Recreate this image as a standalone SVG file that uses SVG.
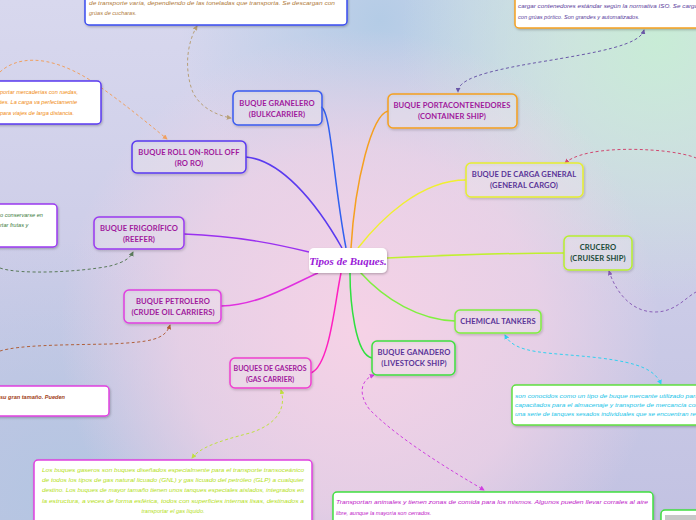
<svg xmlns="http://www.w3.org/2000/svg" width="696" height="520" viewBox="0 0 696 520">
<defs>
<linearGradient id="bg" x1="0" y1="0" x2="0" y2="1">
<stop offset="0" stop-color="#d8d8ee"/>
<stop offset="1" stop-color="#c2c2e2"/>
</linearGradient>
<radialGradient id="pink" cx="360" cy="330" r="300" gradientUnits="userSpaceOnUse">
<stop offset="0" stop-color="#f6d2e6" stop-opacity="1"/>
<stop offset="0.6" stop-color="#f2d2e6" stop-opacity="0.7"/>
<stop offset="1" stop-color="#f2d2e6" stop-opacity="0"/>
</radialGradient>
<radialGradient id="green" cx="660" cy="40" r="260" gradientUnits="userSpaceOnUse">
<stop offset="0" stop-color="#c8ecd6"/>
<stop offset="1" stop-color="#c8ecd6" stop-opacity="0"/>
</radialGradient>
<radialGradient id="blue" cx="380" cy="20" r="200" gradientUnits="userSpaceOnUse">
<stop offset="0" stop-color="#b4cce6"/>
<stop offset="1" stop-color="#b4cce6" stop-opacity="0"/>
</radialGradient>
<radialGradient id="blue2" cx="60" cy="500" r="260" gradientUnits="userSpaceOnUse">
<stop offset="0" stop-color="#b4c6e2"/>
<stop offset="1" stop-color="#b4c6e2" stop-opacity="0"/>
</radialGradient>
<filter id="sh" x="-10%" y="-10%" width="130%" height="140%">
<feDropShadow dx="0.8" dy="1.2" stdDeviation="0.8" flood-color="#000" flood-opacity="0.25"/>
</filter>
<marker id="aTan" viewBox="0 0 6 6" refX="5" refY="3" markerWidth="5" markerHeight="5" orient="auto-start-reverse"><path d="M0,0 L6,3 L0,6 z" fill="#b8a078"/></marker>
<marker id="aPur" viewBox="0 0 6 6" refX="5" refY="3" markerWidth="5" markerHeight="5" orient="auto-start-reverse"><path d="M0,0 L6,3 L0,6 z" fill="#6a58a8"/></marker>
<marker id="aOr" viewBox="0 0 6 6" refX="5" refY="3" markerWidth="5" markerHeight="5" orient="auto-start-reverse"><path d="M0,0 L6,3 L0,6 z" fill="#f0a060"/></marker>
<marker id="aGr" viewBox="0 0 6 6" refX="5" refY="3" markerWidth="5" markerHeight="5" orient="auto-start-reverse"><path d="M0,0 L6,3 L0,6 z" fill="#5a7a5a"/></marker>
<marker id="aBr" viewBox="0 0 6 6" refX="5" refY="3" markerWidth="5" markerHeight="5" orient="auto-start-reverse"><path d="M0,0 L6,3 L0,6 z" fill="#b0603a"/></marker>
<marker id="aYg" viewBox="0 0 6 6" refX="5" refY="3" markerWidth="5" markerHeight="5" orient="auto-start-reverse"><path d="M0,0 L6,3 L0,6 z" fill="#c0e040"/></marker>
<marker id="aCy" viewBox="0 0 6 6" refX="5" refY="3" markerWidth="5" markerHeight="5" orient="auto-start-reverse"><path d="M0,0 L6,3 L0,6 z" fill="#30d0f0"/></marker>
<marker id="aMg" viewBox="0 0 6 6" refX="5" refY="3" markerWidth="5" markerHeight="5" orient="auto-start-reverse"><path d="M0,0 L6,3 L0,6 z" fill="#d040e0"/></marker>
<marker id="aVi" viewBox="0 0 6 6" refX="5" refY="3" markerWidth="5" markerHeight="5" orient="auto-start-reverse"><path d="M0,0 L6,3 L0,6 z" fill="#8a60b8"/></marker>
<marker id="aRd" viewBox="0 0 6 6" refX="5" refY="3" markerWidth="5" markerHeight="5" orient="auto-start-reverse"><path d="M0,0 L6,3 L0,6 z" fill="#d04870"/></marker>
</defs>
<style>
.node{fill:#ffffff;fill-opacity:0.25;stroke-width:1.5;filter:url(#sh)}
.note{fill:#ffffff;stroke-width:1.5;filter:url(#sh)}
.lbl{font-family:Lato,"Open Sans","Liberation Sans",sans-serif;font-weight:bold;font-size:7.6px;letter-spacing:0.1px;text-anchor:middle;fill:#a0189c}
.lbl2{fill:#5a3498}
.lbl3{fill:#1a4a38}
.ntx{font-family:"Liberation Sans","DejaVu Sans",sans-serif;font-style:italic;font-size:5.6px}
.main{fill:none;stroke-width:1.5}
.dash{fill:none;stroke-width:1;stroke-dasharray:3 2.5}
</style>
<rect width="696" height="520" fill="url(#bg)"/>
<rect width="696" height="520" fill="url(#blue)"/>
<rect width="696" height="520" fill="url(#blue2)"/>
<rect width="696" height="520" fill="url(#green)"/>
<rect width="696" height="520" fill="url(#pink)"/>

<g id="connectors">
<path class="main" stroke="#3060f0" d="M321,107 C331,110 333,180 346,248"/>
<path class="main" stroke="#5a3af0" d="M246,157 C280,160 315,200 342,248"/>
<path class="main" stroke="#f5a020" d="M388,111 C372,115 355,180 351,248"/>
<path class="main" stroke="#f0f030" d="M466,180 C420,180 380,220 358,248"/>
<path class="main" stroke="#c0f030" d="M387,258 C450,255 520,253 564,253"/>
<path class="main" stroke="#9a30f0" d="M184,234 C240,236 280,245 309,252"/>
<path class="main" stroke="#e030e0" d="M221,306 C260,305 290,285 318,273"/>
<path class="main" stroke="#ff20c0" d="M311,373 C330,365 335,300 341,273"/>
<path class="main" stroke="#80f040" d="M455,321 C420,320 385,300 360,272"/>
<path class="main" stroke="#30e040" d="M372,358 C355,355 350,300 350,273"/>

<path class="dash" stroke="#b8a078" marker-start="url(#aTan)" marker-end="url(#aTan)" d="M197,26 C186,45 185,70 192,90 C198,106 215,115 231,118"/>
<path class="dash" stroke="#6a58a8" marker-start="url(#aPur)" marker-end="url(#aPur)" d="M644,30 C640,45 600,52 540,62 C480,72 458,80 458,92"/>
<path class="dash" stroke="#f0a060" marker-end="url(#aOr)" d="M0,72 C15,58 45,52 90,80 C120,100 150,125 167,139"/>
<path class="dash" stroke="#5a7a5a" marker-end="url(#aGr)" d="M0,268 C20,275 80,272 110,266 C125,262 130,258 133,252"/>
<path class="dash" stroke="#b0603a" marker-end="url(#aBr)" d="M0,351 C20,345 60,345 110,344 C150,342 165,340 170,325"/>
<path class="dash" stroke="#c0e040" marker-start="url(#aYg)" marker-end="url(#aYg)" d="M281,390 C287,410 275,425 250,433 C215,442 200,448 192,458"/>
<path class="dash" stroke="#30d0f0" marker-start="url(#aCy)" marker-end="url(#aCy)" d="M505,335 C515,355 550,352 600,358 C640,363 655,370 661,384"/>
<path class="dash" stroke="#d040e0" marker-start="url(#aMg)" marker-end="url(#aMg)" d="M374,375 C360,380 358,395 370,410 C400,440 450,470 484,490"/>
<path class="dash" stroke="#8a60b8" marker-start="url(#aVi)" d="M609,271 C615,290 630,312 655,312 C675,312 685,298 696,292"/>
<path class="dash" stroke="#d04870" marker-start="url(#aRd)" d="M565,163 C580,150 620,148 650,150 C670,151 690,155 696,158"/>
</g>

<g id="center">
<rect x="309" y="248" width="78" height="25" rx="5" fill="#ffffff" filter="url(#sh)"/>
<text x="348" y="265" text-anchor="middle" font-family="'Liberation Serif','DejaVu Serif',serif" font-style="italic" font-weight="bold" font-size="11" fill="#9a20d8">Tipos de Buques.</text>
</g>

<g id="granelero">
<rect class="node" x="233" y="91" width="89" height="34" rx="5" stroke="#3a5cf0"/>
<text class="lbl" x="277" y="106">BUQUE GRANELERO</text>
<text class="lbl" x="277" y="117">(BULKCARRIER)</text>
</g>
<g id="portacontenedores">
<rect class="node" x="388" y="94" width="129" height="34" rx="5" stroke="#f5a020"/>
<text class="lbl" x="452" y="108">BUQUE PORTACONTENEDORES</text>
<text class="lbl" x="452" y="119">(CONTAINER SHIP)</text>
</g>
<g id="roro">
<rect class="node" x="132" y="141" width="114" height="32" rx="5" stroke="#5a3af0"/>
<text class="lbl" x="189" y="155">BUQUE ROLL ON-ROLL OFF</text>
<text class="lbl" x="189" y="166">(RO RO)</text>
</g>
<g id="cargageneral">
<rect class="node" x="466" y="163" width="117" height="34" rx="5" stroke="#e6ee30"/>
<text class="lbl lbl2" x="524" y="177">BUQUE DE CARGA GENERAL</text>
<text class="lbl lbl2" x="524" y="188">(GENERAL CARGO)</text>
</g>
<g id="crucero">
<rect class="node" x="564" y="236" width="68" height="34" rx="5" stroke="#b8ee30"/>
<text class="lbl lbl3" x="598" y="250">CRUCERO</text>
<text class="lbl lbl3" x="598" y="261">(CRUISER SHIP)</text>
</g>
<g id="frigorifico">
<rect class="node" x="94" y="217" width="90" height="32" rx="5" stroke="#9a3af0"/>
<text class="lbl" x="139" y="231">BUQUE FRIGORÍFICO</text>
<text class="lbl" x="139" y="242">(REEFER)</text>
</g>
<g id="petrolero">
<rect class="node" x="124" y="290" width="97" height="33" rx="5" stroke="#e040e0"/>
<text class="lbl" x="173" y="304">BUQUE PETROLERO</text>
<text class="lbl" x="173" y="315">(CRUDE OIL CARRIERS)</text>
</g>
<g id="gaseros">
<rect class="node" x="230" y="358" width="81" height="30" rx="5" stroke="#f040d0"/>
<text class="lbl" x="270" y="371" style="font-size:7px;letter-spacing:0px">BUQUES DE GASEROS</text>
<text class="lbl" x="270" y="382" style="font-size:7px;letter-spacing:0px">(GAS CARRIER)</text>
</g>
<g id="chemical">
<rect class="node" x="455" y="310" width="86" height="23" rx="5" stroke="#80ee40"/>
<text class="lbl lbl2" x="498" y="324">CHEMICAL TANKERS</text>
</g>
<g id="ganadero">
<rect class="node" x="372" y="341" width="83" height="34" rx="5" stroke="#40e040"/>
<text class="lbl lbl2" x="414" y="355">BUQUE GANADERO</text>
<text class="lbl lbl2" x="414" y="366">(LIVESTOCK SHIP)</text>
</g>

<g id="note-granelero">
<rect class="note" x="85" y="-10" width="262" height="35" rx="4" stroke="#3a4cf0"/>
<text class="ntx" x="89" y="5" fill="#b07a3a" textLength="246" lengthAdjust="spacingAndGlyphs">de transporte varía, dependiendo de las toneladas que transporta. Se descargan con</text>
<text class="ntx" x="89" y="15" fill="#b07a3a">grúas de cucharas.</text>
</g>
<g id="note-container">
<rect class="note" x="515" y="-10" width="200" height="38" rx="4" stroke="#f5a020"/>
<text class="ntx" x="518" y="8" fill="#5a3c9c" textLength="180" lengthAdjust="spacingAndGlyphs">cargar contenedores estándar según la normativa ISO. Se carga</text>
<text class="ntx" x="518" y="19" fill="#5a3c9c">con grúas pórtico. Son grandes y automatizados.</text>
</g>
<g id="note-roro">
<rect class="note" x="-10" y="81" width="111" height="43" rx="4" stroke="#5a3af0"/>
<text class="ntx" x="0" y="94" fill="#f08a10">portar mercaderías con ruedas,</text>
<text class="ntx" x="0" y="104" fill="#f08a10">tes. La carga va perfectamente</text>
<text class="ntx" x="0" y="115" fill="#f08a10">para viajes de larga distancia.</text>
</g>
<g id="note-reefer">
<rect class="note" x="-10" y="204" width="67" height="43" rx="4" stroke="#9a3af0"/>
<text class="ntx" x="0" y="217" fill="#3a7a3a">o conservarse en</text>
<text class="ntx" x="0" y="227" fill="#3a7a3a">rtar frutas y</text>
</g>
<g id="note-petrolero">
<rect class="note" x="-10" y="386" width="119" height="30" rx="4" stroke="#e040e0"/>
<text class="ntx" x="0" y="399" fill="#a04018" font-weight="bold">su gran tamaño. Pueden</text>
</g>
<g id="note-gaseros">
<rect class="note" x="34" y="460" width="278" height="70" rx="4" stroke="#e040e0"/>
<g class="ntx" fill="#b4e020" text-anchor="middle">
<text x="173" y="472" textLength="262" lengthAdjust="spacingAndGlyphs">Los buques gaseros son buques diseñados especialmente para el transporte transoceánico</text>
<text x="173" y="482" textLength="262" lengthAdjust="spacingAndGlyphs">de todos los tipos de gas natural licuado (GNL) y gas licuado del petróleo (GLP) a cualquier</text>
<text x="173" y="492" textLength="262" lengthAdjust="spacingAndGlyphs">destino. Los buques de mayor tamaño tienen unos tanques especiales aislados, integrados en</text>
<text x="173" y="503" textLength="262" lengthAdjust="spacingAndGlyphs">la estructura, a veces de forma esférica, todos con superficies internas lisas, destinados a</text>
<text x="173" y="513">transportar el gas líquido.</text>
</g>
</g>
<g id="note-chemical">
<rect class="note" x="512" y="385" width="200" height="40" rx="4" stroke="#60e040"/>
<g class="ntx" fill="#20c4e8">
<text x="515" y="398" textLength="184" lengthAdjust="spacingAndGlyphs">son conocidos como un tipo de buque mercante utilizado para</text>
<text x="515" y="407" textLength="184" lengthAdjust="spacingAndGlyphs">capacitados para el almacenaje y transporte de mercancía con</text>
<text x="515" y="416" textLength="184" lengthAdjust="spacingAndGlyphs">una serie de tanques sesados individuales que se encuentran rec</text>
</g>
</g>
<g id="note-ganadero">
<rect class="note" x="333" y="492" width="320" height="40" rx="4" stroke="#40e040"/>
<text class="ntx" x="336" y="504" fill="#c020c8" textLength="312" lengthAdjust="spacingAndGlyphs">Transportan animales y tienen zonas de comida para los mismos. Algunos pueden llevar corrales al aire</text>
<text class="ntx" x="336" y="515" fill="#c020c8">libre, aunque la mayoría son cerrados.</text>
</g>
<g id="note-bottomright">
<rect class="note" x="661" y="510" width="50" height="20" rx="4" stroke="#40e040"/>
<rect x="665" y="515" width="40" height="10" fill="#c8c8c8"/>
</g>
</svg>
